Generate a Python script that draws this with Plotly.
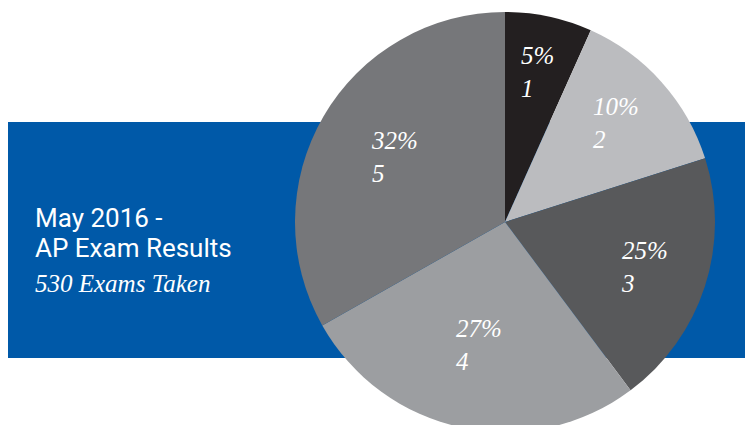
import math
import plotly.graph_objects as go

# ---- data ----
scores = ["1", "2", "3", "4", "5"]
percent_labels = [5, 10, 25, 27, 32]          # printed percentages
slice_shares = [6.7, 13.4, 19.7, 27.0, 33.2]  # slice sizes as drawn
title_line1 = "May 2016 -"
title_line2 = "AP Exam Results"
subtitle = "530 Exams Taken"

# ---- styling ----
W, H = 745, 440   # page is a bit taller than the 425 window; the pie runs off the bottom
slice_colors = ["#231f20", "#bbbcbf", "#58595b", "#9c9ea1", "#76777a"]
blue = "#0059a8"
label_radius_frac = [0.73, 0.71, 0.70, 0.60, 0.61]

pie_cx, pie_cy, pie_r = 505, 222, 210   # pixels from top-left
dom_x = [(pie_cx - pie_r) / W, (pie_cx + pie_r) / W]
dom_y = [1 - (pie_cy + pie_r) / H, 1 - (pie_cy - pie_r) / H]

fig = go.Figure()
fig.add_trace(go.Pie(
    labels=scores,
    values=slice_shares,
    sort=False,
    direction="clockwise",
    rotation=0,
    marker=dict(colors=slice_colors, line=dict(width=0)),
    textinfo="none",
    hoverinfo="skip",
    showlegend=False,
    domain=dict(x=dom_x, y=dom_y),
))

annotations = []
total = sum(slice_shares)
cum = 0
for lab, pct, share, f in zip(scores, percent_labels, slice_shares, label_radius_frac):
    mid = 2 * math.pi * (cum + share / 2) / total
    cum += share
    px = pie_cx + pie_r * f * math.sin(mid)
    py = pie_cy - pie_r * f * math.cos(mid)
    annotations.append(dict(
        x=px / W, y=1 - py / H, xref="paper", yref="paper",
        xanchor="center", yanchor="middle", align="left",
        text=f"<i>{pct}%</i><br><i>{lab}</i>", showarrow=False,
        font=dict(family="Liberation Serif, serif", size=25, color="white"),
    ))

sans = "Roboto, sans-serif"
annotations += [
    dict(x=33 / W, y=1 - 218 / H, xref="paper", yref="paper", xanchor="left", yanchor="middle",
         text=title_line1, showarrow=False,
         font=dict(family=sans, size=26, color="white")),
    dict(x=33 / W, y=1 - 248 / H, xref="paper", yref="paper", xanchor="left", yanchor="middle",
         text=title_line2, showarrow=False,
         font=dict(family=sans, size=26, color="white")),
    dict(x=33 / W, y=1 - 283 / H, xref="paper", yref="paper", xanchor="left", yanchor="middle",
         text=f"<i>{subtitle}</i>", showarrow=False,
         font=dict(family="Liberation Serif, serif", size=25, color="white")),
]

fig.update_layout(
    width=W, height=H,
    margin=dict(l=0, r=0, t=0, b=0),
    paper_bgcolor="white", plot_bgcolor="white",
    shapes=[dict(type="rect", xref="paper", yref="paper", layer="below",
                 x0=8 / W, x1=1, y0=1 - 358 / H, y1=1 - 122 / H,
                 fillcolor=blue, line=dict(width=0))],
    annotations=annotations,
)

fig.write_html("out.html",
               config={"displayModeBar": False},
               post_script="document.body.style.margin='0';document.body.style.overflow='hidden';")
